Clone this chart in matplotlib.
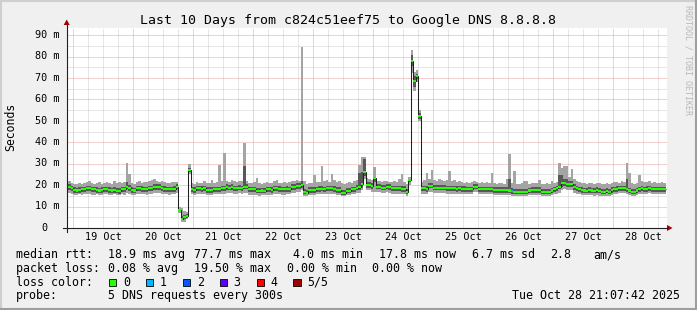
import matplotlib
matplotlib.use('Agg')
import matplotlib.pyplot as plt
import numpy as np
from matplotlib.patches import Rectangle, Polygon
from matplotlib.lines import Line2D

W, H = 697, 310

# ---------------- data (hourly bins, starting Oct 18 21:00) ----------------
med = [19.0,19.2,18.5,17.7,17.5,17.7,18.0,18.0,18.5,18.5,18.0,18.0,17.7,17.5,17.7,18.0,18.0,17.7,17.5,17.7,17.4,17.2,18.0,18.0,
       19.3,18.5,17.7,17.5,18.5,18.5,18.3,18.0,18.0,18.5,18.5,19.0,19.0,19.0,18.5,18.3,18.0,18.0,18.0,18.2,19.3,8.4,4.3,5.0,
       5.6,27.1,18.0,17.7,18.5,18.5,18.3,18.5,17.7,17.7,17.8,18.0,18.0,18.0,18.5,18.5,19.0,18.8,19.0,18.5,18.5,18.7,18.5,19.3,
       19.3,18.0,18.0,18.0,17.4,17.4,17.5,17.4,18.0,18.0,17.8,18.5,18.5,18.3,18.0,18.0,18.2,18.0,19.0,19.0,19.6,19.6,20.2,16.8,
       16.5,17.7,17.7,17.8,18.0,18.2,18.4,18.0,18.5,18.5,18.5,18.3,17.7,17.7,16.5,16.5,17.3,17.4,18.0,18.0,18.8,19.0,20.5,26.3,
       20.0,20.0,19.6,23.2,19.3,19.3,18.8,18.8,19.3,19.0,18.5,18.5,18.5,18.5,18.2,18.2,17.0,22.4,77.7,68.7,71.0,52.3,18.5,18.5,
       18.3,19.8,19.8,18.8,18.8,18.8,18.8,18.8,18.5,18.5,18.5,18.5,18.2,18.5,18.2,18.2,18.0,18.0,18.0,19.3,19.3,18.0,18.0,18.0,
       18.0,18.0,18.0,17.7,17.7,17.7,17.7,17.7,17.7,17.5,17.3,17.0,16.8,16.8,17.0,16.8,17.0,17.5,17.7,17.7,17.7,17.7,17.0,17.0,
       17.0,17.0,17.5,18.0,18.5,19.3,20.8,21.0,20.5,20.5,20.5,19.0,18.5,18.0,17.7,17.5,17.3,17.7,17.5,17.3,17.7,17.3,17.0,17.0,
       17.3,17.0,17.7,18.0,18.3,18.5,18.5,18.5,18.0,17.5,17.0,17.0,17.5,18.0,18.5,18.0,18.3,18.5,18.0,18.0,18.0,18.0,18.0,18.0]

hi = [22.5,22.0,21.0,20.5,20.5,21.0,20.5,21.0,21.5,22.0,21.0,20.5,21.0,21.5,20.5,21.0,21.5,21.0,20.5,22.0,21.0,21.5,21.0,21.5,
      30.5,25.0,21.0,20.5,21.5,22.0,21.0,21.5,21.5,22.0,22.5,23.0,22.0,21.5,22.0,21.5,21.0,21.0,21.5,21.5,21.5,10.0,9.5,8.0,
      7.5,30.0,21.0,20.5,21.5,21.0,21.0,22.0,21.0,21.0,22.5,21.0,21.5,29.4,22.0,34.8,22.0,21.5,22.5,22.0,21.5,22.0,22.0,39.8,
      22.0,21.0,21.0,21.5,23.2,21.0,20.5,21.0,21.5,21.0,21.0,22.0,22.5,21.0,21.0,21.5,21.0,21.5,22.0,22.0,22.5,22.0,84.6,22.0,
      20.5,21.0,21.0,24.7,21.5,21.5,29.0,22.0,22.5,21.5,25.2,22.5,21.5,22.0,21.0,20.5,21.0,21.5,21.0,22.0,22.5,29.4,33.3,33.3,
      23.2,23.0,22.5,28.6,22.0,22.0,21.5,22.0,22.0,21.5,21.5,22.0,21.5,23.0,25.0,21.5,20.5,24.0,82.9,73.0,73.5,55.1,21.5,22.5,
      25.8,23.0,27.0,22.5,22.0,23.0,22.5,22.0,22.5,26.5,22.0,22.5,21.5,22.0,21.5,21.0,21.5,21.0,21.5,22.0,21.5,21.0,21.5,21.0,
      21.5,21.0,25.8,21.0,20.5,21.0,21.0,20.5,22.7,34.5,21.0,26.8,20.5,20.5,21.0,22.0,22.0,20.5,21.0,21.0,21.0,22.4,20.5,20.5,
      21.0,20.5,22.0,21.0,21.5,30.4,28.2,28.7,28.7,24.0,27.6,23.0,22.0,21.5,21.0,21.0,20.5,21.0,21.0,20.5,21.0,21.0,20.5,20.5,
      21.0,20.5,21.0,21.5,21.5,21.0,22.0,21.5,30.4,25.5,21.0,20.5,21.0,24.8,22.0,21.5,21.5,22.0,21.0,21.5,21.0,21.0,21.5,21.0]

lo = [16.0,16.5,16.0,15.5,15.5,15.8,15.5,16.0,16.0,16.0,15.5,15.5,15.8,15.5,15.5,16.0,15.8,15.5,15.5,15.8,15.5,15.3,15.8,15.5,
      16.5,16.0,15.5,15.5,16.0,16.0,16.0,15.8,15.5,16.0,16.0,16.5,16.5,16.5,16.0,16.0,16.0,15.5,15.8,16.0,16.5,7.0,2.8,3.0,
      4.0,25.0,15.8,15.5,16.0,16.0,16.0,16.0,15.5,15.5,15.5,15.8,15.8,15.8,16.0,16.0,16.5,16.5,16.5,16.0,16.0,16.5,16.0,16.5,
      16.5,15.5,15.5,15.5,15.3,15.0,15.3,15.3,15.5,15.5,15.5,16.0,16.0,16.0,15.5,15.5,15.8,15.8,16.5,16.5,17.0,17.0,17.5,15.0,
      15.0,15.5,15.5,15.5,15.8,16.0,16.0,15.8,16.0,16.0,16.0,16.0,15.5,15.3,14.8,14.8,15.3,15.3,15.8,15.8,16.3,16.5,17.5,23.0,
      17.5,17.5,17.0,17.0,17.0,16.8,16.3,16.3,16.8,16.5,16.0,16.0,16.0,16.0,16.0,16.0,15.0,20.0,72.4,64.0,68.0,50.0,15.8,16.0,
      16.0,17.0,17.0,16.5,16.5,16.5,16.5,16.5,16.0,16.0,16.0,16.0,16.0,16.0,16.0,16.0,15.8,15.8,15.8,16.8,16.8,15.8,15.8,15.8,
      15.8,15.8,15.8,15.5,15.5,15.5,15.5,15.5,15.5,15.3,15.0,14.8,14.8,14.8,15.0,14.8,15.0,15.3,15.5,15.5,15.5,15.5,15.0,15.0,
      15.0,15.0,15.3,15.8,16.0,16.5,17.5,18.0,17.5,17.5,17.5,16.5,16.0,15.8,15.5,15.3,15.3,15.5,15.3,15.0,15.3,15.0,15.0,15.0,
      15.0,15.0,15.5,15.8,16.0,16.3,16.3,16.3,15.8,15.3,15.0,15.0,15.3,15.8,16.0,15.8,16.0,16.3,15.8,15.8,15.8,15.8,15.8,15.8]

p2 = [17.5,17.8,17.2,16.5,16.3,16.5,16.8,16.8,17.3,17.3,16.8,16.8,16.5,16.3,16.5,16.8,16.8,16.5,16.3,16.5,16.2,16.0,16.8,16.8,
      18.0,17.3,16.5,16.3,17.3,17.3,17.0,16.8,16.8,17.3,17.3,17.8,17.8,17.8,17.3,17.0,16.8,16.8,16.8,17.0,18.0,7.8,3.5,4.0,
      4.8,26.0,16.8,16.5,17.3,17.3,17.0,17.3,16.5,16.5,16.5,16.8,16.8,16.8,17.3,17.3,17.8,17.5,17.8,17.3,17.3,17.5,17.3,18.0,
      18.0,16.8,16.8,16.8,16.2,16.2,16.3,16.2,16.8,16.8,16.5,17.3,17.3,17.0,16.8,16.8,17.0,16.8,17.8,17.8,18.3,18.3,18.8,15.8,
      15.8,16.5,16.5,16.5,16.8,17.0,17.2,16.8,17.3,17.3,17.3,17.0,16.5,16.5,15.5,15.5,16.2,16.2,16.8,16.8,17.5,17.8,18.8,24.3,
      18.8,18.8,18.3,21.5,18.0,18.0,17.5,17.5,18.0,17.8,17.3,17.3,17.3,17.3,17.0,17.0,16.0,21.5,75.4,66.0,69.5,51.0,17.3,17.3,
      17.0,18.5,18.5,17.5,17.5,17.5,17.5,17.5,17.3,17.3,17.3,17.3,17.0,17.3,17.0,17.0,16.8,16.8,16.8,18.0,18.0,16.8,16.8,16.8,
      16.8,16.8,16.8,16.5,16.5,16.5,16.5,16.5,16.5,16.3,16.0,15.8,15.8,15.8,16.0,15.8,16.0,16.3,16.5,16.5,16.5,16.5,16.0,16.0,
      16.0,16.0,16.3,16.8,17.3,18.0,19.3,19.5,19.0,19.0,19.0,17.8,17.3,16.8,16.5,16.3,16.2,16.5,16.3,16.2,16.5,16.2,16.0,16.0,
      16.2,16.0,16.5,16.8,17.0,17.3,17.3,17.3,16.8,16.3,16.0,16.0,16.3,16.8,17.3,16.8,17.0,17.3,16.8,16.8,16.8,16.8,16.8,16.8]

p4 = [20.5,20.5,19.8,19.0,18.8,19.0,19.3,19.3,19.8,19.8,19.3,19.3,19.0,18.8,19.0,19.3,19.3,19.0,18.8,19.0,18.7,18.5,19.3,19.3,
      21.5,20.0,19.0,18.8,19.8,19.8,19.5,19.3,19.3,19.8,19.8,20.3,20.3,20.3,19.8,19.5,19.3,19.3,19.3,19.5,20.5,9.0,5.5,6.0,
      6.5,28.0,19.3,19.0,19.8,19.8,19.5,19.8,19.0,19.0,19.0,19.3,19.3,19.3,19.8,19.8,20.3,20.0,20.3,19.8,19.8,20.0,19.8,28.7,
      20.5,19.3,19.3,19.3,18.8,18.7,18.8,18.7,19.3,19.3,19.0,19.8,19.8,19.5,19.3,19.3,19.5,19.3,20.3,20.3,20.8,20.8,22.0,18.0,
      17.8,19.0,19.0,19.0,19.3,19.5,19.8,19.3,19.8,19.8,19.8,19.5,19.0,19.0,17.8,17.8,18.5,18.7,19.3,19.3,20.0,25.5,26.0,32.0,
      21.3,21.3,20.8,24.0,20.5,20.5,20.0,20.0,20.5,20.3,19.8,19.8,19.8,19.8,19.5,19.5,18.3,23.0,80.5,71.0,72.0,53.5,19.8,19.8,
      19.8,21.0,21.0,20.0,20.0,20.0,20.0,20.0,19.8,19.8,19.8,19.8,19.5,19.8,19.5,19.5,19.3,19.3,19.3,20.5,20.5,19.3,19.3,19.3,
      19.3,19.3,19.3,19.0,19.0,19.0,19.0,19.0,19.0,22.7,18.5,18.3,18.0,18.0,18.3,18.0,18.3,18.8,19.0,19.0,19.0,19.0,18.3,18.3,
      18.3,18.3,18.8,19.3,19.8,24.8,24.8,22.8,22.8,21.8,21.8,20.3,19.8,19.3,19.0,18.8,18.5,19.0,18.8,18.5,19.0,18.5,18.3,18.3,
      18.5,18.3,19.0,19.3,19.5,19.8,19.8,19.8,23.0,18.8,18.3,18.3,18.8,19.3,19.8,19.3,19.5,19.8,19.3,19.3,19.3,19.3,19.3,19.3]

loss_events = {178: 1}          # bin index -> lost pings (of 5)
first_bin_hour = -3             # hours relative to Oct 19 00:00

day_labels = ['19 Oct', '20 Oct', '21 Oct', '22 Oct', '23 Oct',
              '24 Oct', '25 Oct', '26 Oct', '27 Oct', '28 Oct']
y_ticks = [0, 10, 20, 30, 40, 50, 60, 70, 80, 90]
y_tick_labels = ['0', '10 m', '20 m', '30 m', '40 m', '50 m', '60 m', '70 m', '80 m', '90 m']

loss_levels = ['0', '1', '2', '3', '4', '5/5']
loss_colors = ['#26ff00', '#00b8ff', '#0059ff', '#5e00ff', '#ff0000', '#a00000']

title = 'Last 10 Days from c824c51eef75 to Google DNS 8.8.8.8'
rtt_items = ['18.9 ms avg', '77.7 ms max', '4.0 ms min', '17.8 ms now', '6.7 ms sd', '2.8', 'am/s']
loss_items = ['0.08 % avg', '19.50 % max', '0.00 % min', '0.00 % now']
probe_text = '5 DNS requests every 300s'
stamp_text = 'Tue Oct 28 21:07:42 2025'

# ---------------- drawing ----------------
MONO = 'DejaVu Sans Mono'
fig = plt.figure(figsize=(W / 100, H / 100), dpi=100, facecolor='#f0f0f0')

def fx(x):
    return x / W

def fy(y):
    return 1 - y / H

X0, X1, Y0, Y1 = 66.7, 666.7, 228.0, 28.0
YMAX = 93.3
ax = fig.add_axes([fx(X0), fy(Y0), (X1 - X0) / W, (Y0 - Y1) / H])
ax.set_facecolor('white')
for s in ax.spines.values():
    s.set_visible(False)
ax.set_xticks([])
ax.set_yticks([])
ax.set_xlim(-2.64, 237.36)
ax.set_ylim(0, YMAX)

dot = (0, (1, 1))
# grid
for h in range(0, 238, 6):
    col = '#eba0a0' if h % 24 == 0 else '#cfcfcf'
    ax.axvline(h, color=col, lw=0.72, ls=dot, zorder=1)
for v in range(5, 95, 5):
    col = '#eba0a0' if v % 10 == 0 else '#cfcfcf'
    ax.axhline(v, color=col, lw=0.72, ls=dot, zorder=1)

n = len(med)
edges = np.arange(n + 1) + first_bin_hour
centers = edges[:-1] + 0.5
ax.stairs(hi, edges, baseline=lo, fill=True, color='#a4a4a4', lw=0, zorder=2)
ax.stairs(p4, edges, baseline=p2, fill=True, color='#585858', lw=0, zorder=3)
ax.stairs(med, edges, baseline=None, color='#202020', lw=0.75, zorder=4)
bar_cols = [loss_colors[loss_events.get(i, 0)] for i in range(n)]
band = 0.95
ax.bar(centers, band, bottom=np.array(med) - band / 2, width=1.0,
       color=bar_cols, lw=0, zorder=5)

# axes lines + arrows
fig.add_artist(Line2D([fx(62.5), fx(667)], [fy(228), fy(228)], transform=fig.transFigure,
                      color='#202020', lw=0.8))
fig.add_artist(Line2D([fx(66.7), fx(66.7)], [fy(232), fy(25)], transform=fig.transFigure,
                      color='#202020', lw=0.8))
fig.add_artist(Polygon([[fx(63.7), fy(25)], [fx(69.7), fy(25)], [fx(66.7), fy(19.5)]],
                       closed=True, transform=fig.transFigure, color='#a00000', lw=0))
fig.add_artist(Polygon([[fx(667), fy(225)], [fx(667), fy(231)], [fx(672.5), fy(228)]],
                       closed=True, transform=fig.transFigure, color='#a00000', lw=0))

# tick labels
def hx(h):
    return X0 + (h + 2.64) * 2.5

for i, lab in enumerate(day_labels):
    fig.text(fx(hx(12 + 24 * i)), fy(240.5), lab, family=MONO, size=7.3,
             ha='center', va='baseline')
for v, lab in zip(y_ticks, y_tick_labels):
    ypx = Y0 - v * (Y0 - Y1) / YMAX
    xr = 59.5 if lab != '0' else 47.3
    fig.text(fx(xr), fy(ypx + 2.7), lab, family=MONO, size=7.3, ha='right', va='baseline')

# title, unit, watermark
fig.text(fx(348), fy(24), title, family=MONO, size=9.5, ha='center', va='baseline')
fig.text(fx(10.5), fy(127), 'Seconds', family=MONO, size=8.3, rotation=90,
         ha='center', va='center')
fig.text(fx(688), fy(60), 'RRDTOOL / TOBI OETIKER', family=MONO, size=6.0, rotation=270,
         ha='center', va='center', color='#b8b8b8')

# legend
LS = 8.4
rows_y = [258.3, 272.0, 285.7, 299.4]
fig.text(fx(16), fy(rows_y[0]), 'median rtt:', family=MONO, size=LS, va='baseline')
for xp, t in zip([107.6, 194.5, 293.3, 379.0, 472.4, 550.0, 593.0], rtt_items):
    fig.text(fx(xp), fy(rows_y[0]), t, family=MONO, size=LS, va='baseline')
fig.text(fx(16), fy(rows_y[1]), 'packet loss:', family=MONO, size=LS, va='baseline')
for xp, t in zip([107.6, 194.5, 286.7, 372.4], loss_items):
    fig.text(fx(xp), fy(rows_y[1]), t, family=MONO, size=LS, va='baseline')
fig.text(fx(16), fy(rows_y[2]), 'loss color:', family=MONO, size=LS, va='baseline')
for i, (lab, col) in enumerate(zip(loss_levels, loss_colors)):
    bx = 108.9 + 36.9 * i
    fig.add_artist(Rectangle((fx(bx), fy(285.7)), 7.5 / W, 6.5 / H, transform=fig.transFigure,
                             facecolor=col, edgecolor='black', lw=0.6))
    fig.text(fx(bx + 14), fy(rows_y[2]), lab, family=MONO, size=LS, va='baseline')
fig.text(fx(16), fy(rows_y[3]), 'probe:', family=MONO, size=LS, va='baseline')
fig.text(fx(107.6), fy(rows_y[3]), probe_text, family=MONO, size=LS, va='baseline')
fig.text(fx(680.5), fy(rows_y[3]), stamp_text, family=MONO, size=LS, va='baseline', ha='right')

# frame
fig.add_artist(Line2D([0, 1], [fy(0.8), fy(0.8)], transform=fig.transFigure, color='#cfcfcf', lw=1.5))
fig.add_artist(Line2D([fx(0.8), fx(0.8)], [0, 1], transform=fig.transFigure, color='#cfcfcf', lw=1.5))
fig.add_artist(Line2D([0, 1], [fy(309.2), fy(309.2)], transform=fig.transFigure, color='#9e9e9e', lw=1.5))
fig.add_artist(Line2D([fx(696.2), fx(696.2)], [0, 1], transform=fig.transFigure, color='#9e9e9e', lw=1.5))

fig.savefig('out.png', dpi=100, facecolor=fig.get_facecolor())
